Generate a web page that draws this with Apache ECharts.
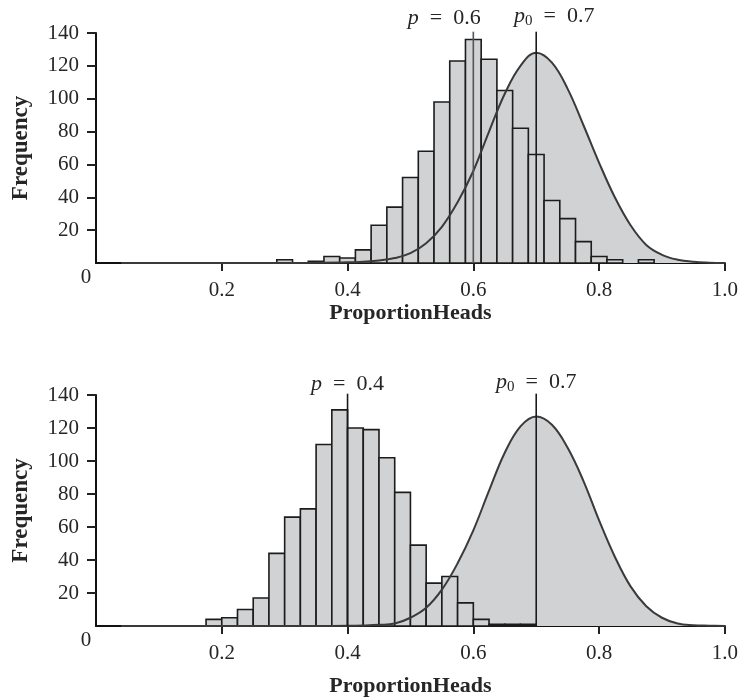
<!DOCTYPE html>
<html>
<head>
<meta charset="utf-8">
<script src="https://cdn.jsdelivr.net/npm/echarts@6/dist/echarts.min.js"></script>
<style>
  html, body { margin: 0; padding: 0; background: #fff; }
  #chart { width: 741px; height: 698px; }
</style>
</head>
<body>
<div id="chart"></div>
<script>
// Top panel: simulated proportions with p = 0.6 (bins centred on k/40)
var topBinLeft = [0.2875, 0.3125, 0.3375, 0.3625, 0.3875, 0.4125, 0.4375, 0.4625, 0.4875, 0.5125,
    0.5375, 0.5625, 0.5875, 0.6125, 0.6375, 0.6625, 0.6875, 0.7125, 0.7375, 0.7625,
    0.7875, 0.8125, 0.8375, 0.8625]
var topCounts = [2, 0, 1, 4, 3, 8, 23, 34, 52, 68,
    98, 123, 136, 124, 105, 82, 66, 38, 27, 13,
    4, 2, 0, 2]

// Bottom panel: simulated proportions with p = 0.4 (bins start on k/40)
var bottomBinLeft = [0.175, 0.2, 0.225, 0.25, 0.275, 0.3, 0.325, 0.35, 0.375, 0.4,
    0.425, 0.45, 0.475, 0.5, 0.525, 0.55, 0.575, 0.6, 0.625, 0.65, 0.675]
var bottomCounts = [4, 5, 10, 17, 44, 66, 71, 110, 131, 120,
    119, 102, 81, 49, 26, 30, 14, 4, 1, 1, 1]

var binWidth = 0.025

// null distribution curve centred at p0 = 0.7
var curveX = [0.04, 0.2, 0.3, 0.35, 0.4, 0.425, 0.45, 0.475, 0.5, 0.525,
    0.55, 0.575, 0.6, 0.625, 0.65, 0.675, 0.7, 0.725, 0.75, 0.775,
    0.8, 0.825, 0.85, 0.875, 0.9, 0.925, 0.95, 0.975, 1.0]
var topCurveY = [0, 0, 0, 0.1, 0.4, 0.8, 1.5, 3, 6, 12,
    22, 37, 56, 80, 103, 120, 128, 122, 106, 84,
    61, 40, 23, 11, 5, 2, 0.7, 0.2, 0]
var bottomCurveY = [0, 0, 0, 0, 0.1, 0.3, 0.7, 1.5, 5, 11,
    22, 38, 58, 82, 105, 121, 127, 122, 108, 88,
    64, 42, 24, 12, 5, 1.5, 0.5, 0.2, 0]

var topMarks = [0.6, 0.7]
var topMarkText = ['{i|p}{t|  =  0.6}', '{i|p}{s|0}{t|  =  0.7}']
var bottomMarks = [0.4, 0.7]
var bottomMarkText = ['{i|p}{t|  =  0.4}', '{i|p}{s|0}{t|  =  0.7}']
var markTop = 140.8

var xTicks = [0.2, 0.4, 0.6, 0.8, 1.0]
var yTicks = [20, 40, 60, 80, 100, 120, 140]
var originText = '0'

var FONT = '"Liberation Serif", "DejaVu Serif", serif'
var TEXT = '#262626'
var GRAY = '#d1d2d4'

var richMark = {
    i: { fontFamily: FONT, fontStyle: 'italic', fontSize: 22, color: TEXT },
    s: { fontFamily: FONT, fontSize: 15, color: TEXT, padding: [10, 0, 0, 0] },
    t: { fontFamily: FONT, fontSize: 22, color: TEXT }
}

function zip(xs, ys) {
    return xs.map(function (x, i) { return [x, ys[i]] })
}

function makeAxes(idx) {
    return {
        x: {
            type: 'value', gridIndex: idx, min: 0, max: 1, interval: 0.2,
            name: 'ProportionHeads', nameLocation: 'middle', nameGap: idx === 0 ? 39 : 49,
            nameTextStyle: { fontFamily: FONT, fontWeight: 'bold', fontSize: 22, color: TEXT },
            axisLine: { lineStyle: { color: '#111', width: 2 } },
            axisTick: { show: true, length: 8, customValues: xTicks, lineStyle: { color: '#222', width: 2 } },
            axisLabel: {
                customValues: xTicks, margin: 17, fontFamily: FONT, fontSize: 21, color: TEXT,
                formatter: function (v) { return v.toFixed(1) }
            },
            splitLine: { show: false }
        },
        y: {
            type: 'value', gridIndex: idx, min: 0, max: 140, interval: 20,
            name: 'Frequency', nameLocation: 'middle', nameGap: 63,
            nameTextStyle: { fontFamily: FONT, fontWeight: 'bold', fontSize: 23, color: TEXT },
            axisLine: { show: true, lineStyle: { color: '#111', width: 2 } },
            axisTick: { show: true, length: 9, customValues: yTicks, lineStyle: { color: '#222', width: 2 } },
            axisLabel: {
                customValues: yTicks, margin: 17, fontFamily: FONT, fontSize: 21, color: TEXT
            },
            splitLine: { show: false }
        }
    }
}

function histSeries(idx, lefts, counts) {
    return {
        type: 'custom', xAxisIndex: idx, yAxisIndex: idx, z: 3,
        data: zip(lefts, counts),
        encode: { x: 0, y: 1 },
        renderItem: function (params, api) {
            var h = api.value(1)
            if (!h) return null
            var a = api.coord([api.value(0), 0])
            var b = api.coord([api.value(0) + binWidth, h])
            return {
                type: 'rect',
                shape: { x: a[0], y: b[1], width: b[0] - a[0], height: a[1] - b[1] },
                style: { fill: GRAY, stroke: '#1c1c1c', lineWidth: 1.6 }
            }
        }
    }
}

function curveSeries(idx, ys) {
    return [{
        // filled area under the null curve
        type: 'line', xAxisIndex: idx, yAxisIndex: idx, z: 1,
        data: zip(curveX, ys), smooth: 0.4, showSymbol: false, silent: true,
        lineStyle: { width: 0 }, areaStyle: { color: GRAY, opacity: 1 }
    }, {
        type: 'line', xAxisIndex: idx, yAxisIndex: idx, z: 5,
        data: zip(curveX, ys), smooth: 0.4, showSymbol: false, silent: true,
        lineStyle: { color: '#3a3a3a', width: 2 }
    }]
}

function markSeries(idx, marks, colors) {
    return marks.map(function (m, i) {
        return {
            type: 'line', xAxisIndex: idx, yAxisIndex: idx, z: 6,
            data: [[m, 0], [m, markTop]], showSymbol: false, silent: true, clip: false,
            lineStyle: { color: colors[i], width: 1.6 }
        }
    })
}

function labelSeries(idx, marks, texts, offsets) {
    var items = marks.map(function (m, i) {
        return {
            value: [m, 140],
            label: {
                show: true, position: 'top', distance: 0, offset: offsets[i],
                color: TEXT, formatter: texts[i], rich: richMark
            }
        }
    })
    // the lone "0" at the origin, below and left of the corner
    items.push({
        value: [0, 0],
        label: {
            show: true, position: 'bottom', distance: 4, offset: [-10, 0],
            color: TEXT, fontFamily: FONT, fontSize: 21, formatter: originText
        }
    })
    return {
        type: 'scatter', xAxisIndex: idx, yAxisIndex: idx, z: 7,
        symbolSize: 0, silent: true, clip: false,
        itemStyle: { opacity: 1 },
        data: items
    }
}

var topAxes = makeAxes(0)
var bottomAxes = makeAxes(1)

var option = {
    animation: false,
    grid: [
        { left: 96, top: 33, width: 630, height: 230 },
        { left: 96, top: 395, width: 631, height: 231 }
    ],
    xAxis: [topAxes.x, bottomAxes.x],
    yAxis: [topAxes.y, bottomAxes.y],
    series: [].concat(
        curveSeries(0, topCurveY),
        [histSeries(0, topBinLeft, topCounts)],
        markSeries(0, topMarks, ['#555', '#1a1a1a']),
        [labelSeries(0, topMarks, topMarkText, [[-29, -4], [18, -4]])],
        curveSeries(1, bottomCurveY),
        [histSeries(1, bottomBinLeft, bottomCounts)],
        markSeries(1, bottomMarks, ['#1a1a1a', '#1a1a1a']),
        [labelSeries(1, bottomMarks, bottomMarkText, [[0, 0], [0, 0]])]
    )
}

var chart = echarts.init(document.getElementById('chart'))
chart.setOption(option)
</script>
</body>
</html>
